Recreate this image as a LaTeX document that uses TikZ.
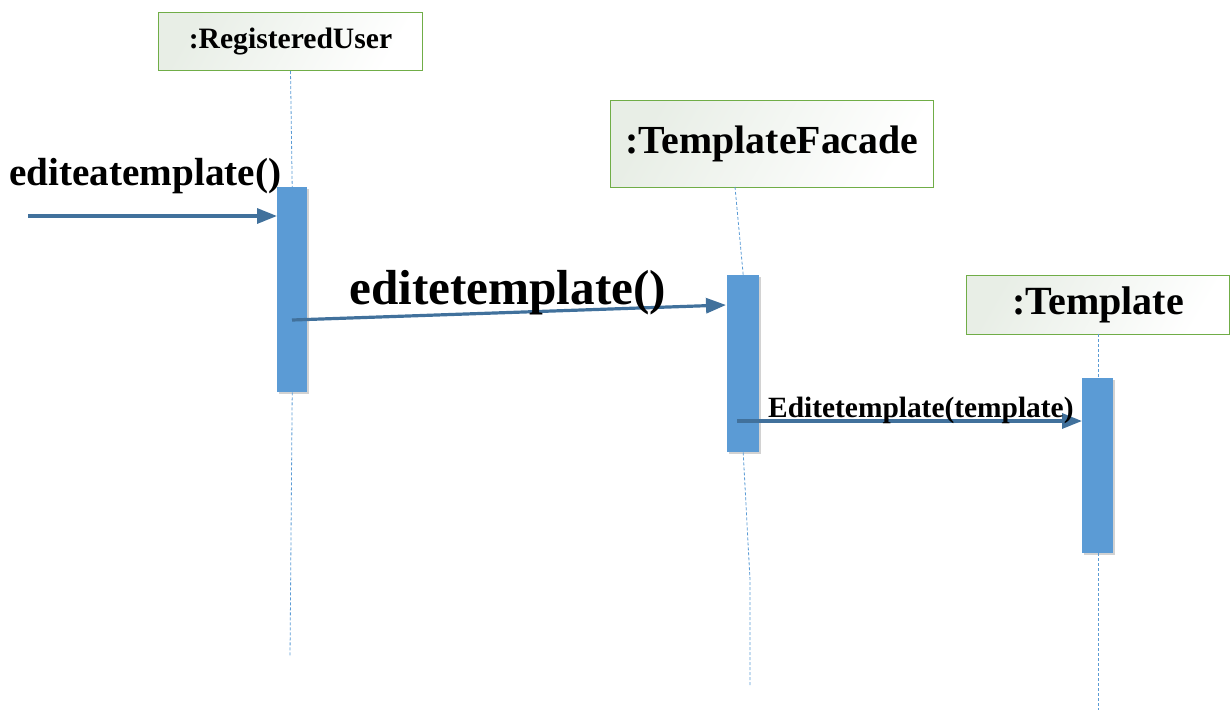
\documentclass[tikz,border=0pt]{standalone}
\usepackage{fontspec}
\setmainfont{Liberation Serif}
\usetikzlibrary{arrows.meta,shadows}
\definecolor{barblue}{RGB}{91,155,213}
\definecolor{arrowblue}{RGB}{65,113,156}
\definecolor{boxgreen}{RGB}{112,173,71}
\definecolor{boxgrey}{RGB}{232,238,230}
\tikzset{
  objbox/.style={draw=boxgreen, line width=1pt, left color=boxgrey, right color=white, shading angle=60, anchor=north west, inner sep=0pt, font=\bfseries},
  actbar/.style={fill=barblue, draw=none, anchor=north west, inner sep=0pt, drop shadow={shadow xshift=2pt, shadow yshift=-2pt, fill=black!35, opacity=0.5}},
  lifeline/.style={draw=barblue, line width=0.8pt, dash pattern=on 3pt off 2pt},
  msg/.style={draw=arrowblue, line width=3.2pt, -{Triangle[length=20pt,width=15pt]}},
  lbl/.style={font=\bfseries, inner sep=0pt, anchor=base west}
}
\begin{document}
\begin{tikzpicture}[x=1pt,y=-1pt]
\useasboundingbox (0,0) rectangle (1230,710);
% object boxes
\node[objbox, minimum width=264pt, minimum height=58pt] (ru) at (158,12) {\fontsize{29.6}{32}\selectfont :RegisteredUser};
\node[objbox, minimum width=323pt, minimum height=87pt] (tf) at (610,100) {\fontsize{39.8}{42}\selectfont :TemplateFacade};
\node[objbox, minimum width=263pt, minimum height=59pt] (tp) at (966,275) {\fontsize{40}{42}\selectfont :Template};
% activation bars
\node[actbar, minimum width=30pt, minimum height=205pt] (a1) at (277,187) {};
\node[actbar, minimum width=32pt, minimum height=177pt] (a2) at (727,275) {};
\node[actbar, minimum width=31pt, minimum height=175pt] (a3) at (1082,378) {};
% lifeline helper coordinates
\coordinate (l1end) at (290,657);
\coordinate (l2bend) at (750,580);
\coordinate (l2end) at (750,685);
\coordinate (l3end) at (1098,710);
% lifelines
\draw[lifeline] (ru.south) -- (a1.north);
\draw[lifeline] (a1.south) -- (l1end);
\draw[lifeline] (735,187) -- (a2.north);
\draw[lifeline] (a2.south) -- (l2bend) -- (l2end);
\draw[lifeline] (1098,334) -- (1098,378);
\draw[lifeline] (1098,553) -- (l3end);
% messages
\coordinate (m1s) at (28,216);
\coordinate (m2s) at (292,320);
\coordinate (m2e) at (726,305);
\coordinate (m3s) at (737,421);
\draw[msg] (m1s) -- (a1.west |- m1s);
\draw[msg] (m2s) -- (m2e);
\draw[msg] (m3s) -- (a3.west |- m3s);
% labels
\node[lbl] (t1) at (9,185) {\fontsize{39.2}{42}\selectfont editeatemplate()};
\node[lbl] (t2) at (349,304) {\fontsize{49.2}{52}\selectfont editetemplate()};
\node[lbl] (t3) at (768,417) {\fontsize{29.4}{32}\selectfont Editetemplate(template)};
\end{tikzpicture}
\end{document}
